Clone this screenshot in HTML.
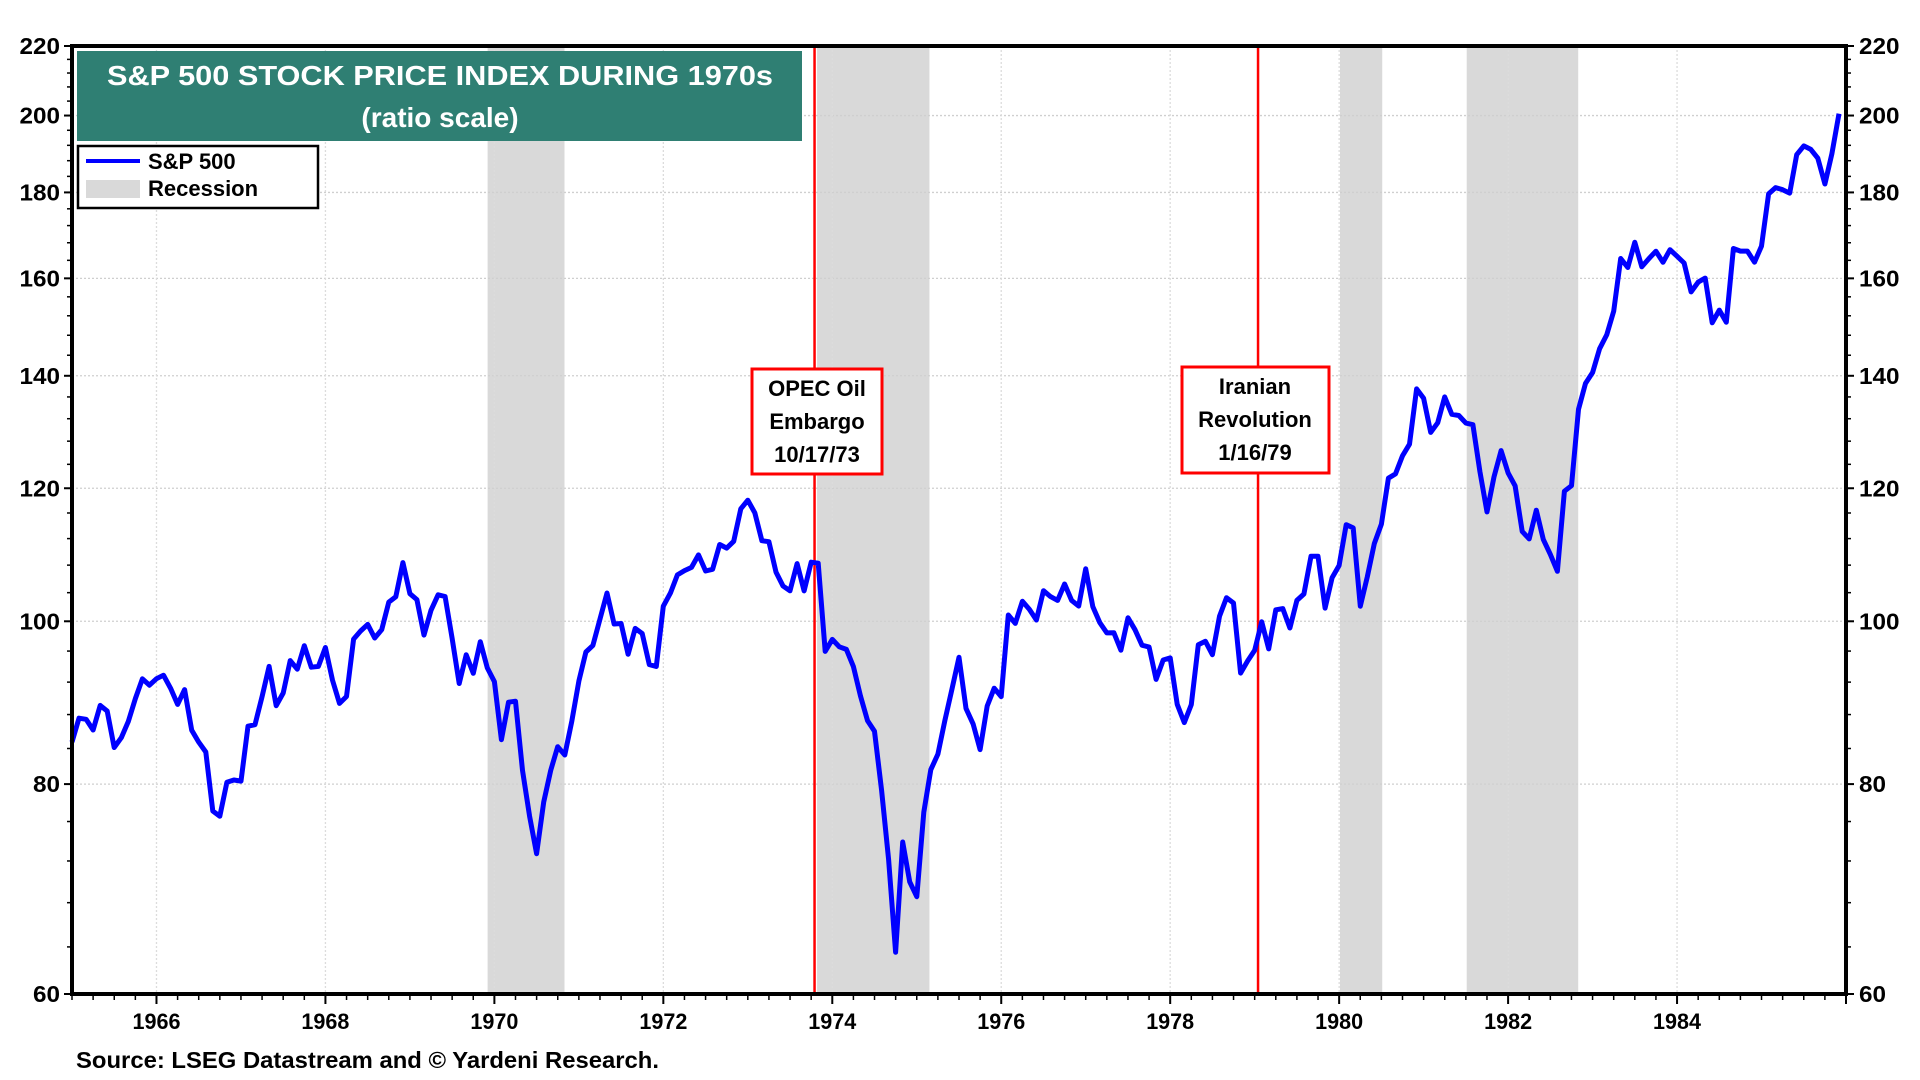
<!DOCTYPE html>
<html><head><meta charset="utf-8"><style>
html,body{margin:0;padding:0;background:#fff;}
svg{display:block;font-family:"Liberation Sans Narrow","Liberation Sans",sans-serif;font-weight:bold;}
</style></head><body>
<svg id="chart" width="1920" height="1080" viewBox="0 0 1920 1080">
<g id="rec"></g>
<g id="grid"></g>
<g id="ev"></g>
<g id="series"></g>
<g id="axes"></g>
<g id="title">
 <rect x="77" y="51" width="725" height="90" fill="#2f7f73"/>
 <text x="440" y="85" fill="#fff" font-size="28" text-anchor="middle" textLength="666" lengthAdjust="spacingAndGlyphs" font-family="Liberation Sans, sans-serif">S&amp;P 500 STOCK PRICE INDEX DURING 1970s</text>
 <text x="440" y="127" fill="#fff" font-size="28" text-anchor="middle" font-family="Liberation Sans, sans-serif">(ratio scale)</text>
</g>
<g id="legend">
 <rect x="78" y="146" width="240" height="62" fill="#fff" stroke="#000" stroke-width="2.5"/>
 <line x1="86" y1="161" x2="140" y2="161" stroke="#0000ff" stroke-width="4"/>
 <text x="148" y="169" font-size="22" font-family="Liberation Sans, sans-serif">S&amp;P 500</text>
 <rect x="86" y="180" width="54" height="18" fill="#d9d9d9"/>
 <text x="148" y="196" font-size="22" font-family="Liberation Sans, sans-serif">Recession</text>
</g>
<g>
 <rect x="752" y="369" width="130" height="105" fill="#fff" stroke="#ff0000" stroke-width="3"/>
 <text x="817" y="396" font-size="22" text-anchor="middle" font-family="Liberation Sans, sans-serif">OPEC Oil</text>
 <text x="817" y="429" font-size="22" text-anchor="middle" font-family="Liberation Sans, sans-serif">Embargo</text>
 <text x="817" y="462" font-size="22" text-anchor="middle" font-family="Liberation Sans, sans-serif">10/17/73</text>
</g>
<g>
 <rect x="1182" y="367" width="147" height="106" fill="#fff" stroke="#ff0000" stroke-width="3"/>
 <text x="1255" y="394" font-size="22" text-anchor="middle" font-family="Liberation Sans, sans-serif">Iranian</text>
 <text x="1255" y="427" font-size="22" text-anchor="middle" font-family="Liberation Sans, sans-serif">Revolution</text>
 <text x="1255" y="460" font-size="22" text-anchor="middle" font-family="Liberation Sans, sans-serif">1/16/79</text>
</g>
<text x="76" y="1068" font-size="23" textLength="583" lengthAdjust="spacingAndGlyphs" font-family="Liberation Sans, sans-serif">Source: LSEG Datastream and © Yardeni Research.</text>
</svg>
<script>
const startYear = 1965; // first point = Dec 1964 close, plotted at 1965.0
const spValues = [84.75,
87.56,87.43,86.16,89.11,88.42,84.12,85.25,87.17,89.96,92.42,91.61,92.43,
92.88,91.22,89.23,91.06,86.13,84.74,83.60,77.10,76.56,80.20,80.45,80.33,
86.61,86.78,90.20,94.01,89.08,90.64,94.75,93.64,96.71,93.90,94.00,96.47,
92.24,89.36,90.20,97.59,98.68,99.58,97.74,98.86,102.67,103.41,108.37,103.86,
103.01,98.13,101.51,103.69,103.46,97.71,91.83,95.51,93.12,97.24,93.81,92.06,
85.02,89.50,89.63,81.52,76.55,72.72,78.05,81.52,84.21,83.25,87.20,92.15,
95.88,96.75,100.31,103.95,99.63,99.70,95.58,99.03,98.34,94.23,93.99,102.09,
103.94,106.57,107.20,107.67,109.53,107.14,107.39,111.09,110.55,111.58,116.67,118.05,
116.03,111.68,111.52,106.97,104.95,104.26,108.22,104.25,108.43,108.29,95.96,97.55,
96.57,96.22,93.98,90.31,87.28,86.00,79.31,72.15,63.54,73.90,69.97,68.56,
76.98,81.59,83.36,87.30,91.15,95.19,88.75,86.88,83.87,89.04,91.24,90.19,
100.86,99.71,102.77,101.64,100.18,104.28,103.44,102.91,105.24,102.90,102.10,107.46,
102.03,99.82,98.42,98.44,96.12,100.48,98.85,96.77,96.53,92.34,94.83,95.10,
89.25,87.04,89.21,96.83,97.29,95.53,100.68,103.29,102.54,93.15,94.70,96.11,
99.93,96.28,101.59,101.76,99.08,102.91,103.81,109.32,109.32,101.82,106.16,107.94,
114.16,113.66,102.09,106.29,111.24,114.24,121.67,122.38,125.46,127.47,137.5,135.76,
129.55,131.27,136.00,132.81,132.59,131.21,130.92,122.79,116.18,121.89,126.35,122.55,
120.40,113.11,111.96,116.44,111.88,109.61,107.09,119.51,120.42,133.71,138.54,140.64,
145.30,148.06,152.96,164.42,162.39,168.11,162.56,164.40,166.07,163.55,166.40,164.93,
163.41,157.06,159.18,160.05,150.55,153.18,150.66,166.68,166.10,166.09,163.58,167.24,
179.63,181.18,180.66,179.83,189.55,191.85,190.92,188.63,182.08,189.82,200.5];
const recStart = [1969.92, 1973.82, 1980.01, 1981.51];
const recEnd = [1970.83, 1975.15, 1980.51, 1982.83];
const eventDates = [1973.79, 1979.04];
const yTicks = [60,80,100,120,140,160,180,200,220];
const xTickYears = [1966,1968,1970,1972,1974,1976,1978,1980,1982,1984];

const L=72,R=1846,T=46,B=994, X0=1965, X1=1986, YMIN=60, YMAX=220;
const NS='http://www.w3.org/2000/svg';
function xs(t){return L+(t-X0)/(X1-X0)*(R-L);}
function ys(v){return B-Math.log(v/YMIN)/Math.log(YMAX/YMIN)*(B-T);}
function mk(tag,attrs,parent){const e=document.createElementNS(NS,tag);for(const k in attrs)e.setAttribute(k,attrs[k]);parent.appendChild(e);return e;}

const rec=document.getElementById('rec');
recStart.forEach((s,i)=>{
  const r=mk('rect',{x:xs(s),y:T,width:xs(recEnd[i])-xs(s),height:B-T,fill:'#d9d9d9'},rec);
  
  
});
const grid=document.getElementById('grid');
yTicks.forEach(v=>{
  const g=mk('line',{x1:L,x2:R,y1:ys(v),y2:ys(v),stroke:'#cfcfcf','stroke-width':1.3,'stroke-dasharray':'2,2'},grid);
  
  
});
xTickYears.forEach(yr=>{
  const g=mk('line',{x1:xs(yr),x2:xs(yr),y1:T,y2:B,stroke:'#dcdcdc','stroke-width':1.3,'stroke-dasharray':'2,2'},grid);
  
  
});
const ev=document.getElementById('ev');
eventDates.forEach(d=>{
  const l=mk('line',{x1:xs(d),x2:xs(d),y1:T,y2:B,stroke:'#ff0000','stroke-width':2.5},ev);
  
  
});
const series=document.getElementById('series');
const pts=spValues.map((v,i)=>xs(startYear+i/12).toFixed(1)+','+ys(v).toFixed(1)).join(' ');
const pl=mk('polyline',{points:pts,fill:'none',stroke:'#0000ff','stroke-width':5,'stroke-linejoin':'round'},series);



const axes=document.getElementById('axes');
mk('rect',{x:L,y:T,width:R-L,height:B-T,fill:'none',stroke:'#000','stroke-width':4},axes);
yTicks.forEach((v,i)=>{
  mk('line',{x1:L-8,x2:L,y1:ys(v),y2:ys(v),stroke:'#000','stroke-width':2},axes);
  mk('line',{x1:R,x2:R+8,y1:ys(v),y2:ys(v),stroke:'#000','stroke-width':2},axes);
  if(i<yTicks.length-1){for(let k=1;k<5;k++){const m=v+(yTicks[i+1]-v)*k/5;
    mk('line',{x1:L-5,x2:L,y1:ys(m),y2:ys(m),stroke:'#000','stroke-width':1.5},axes);
    mk('line',{x1:R,x2:R+5,y1:ys(m),y2:ys(m),stroke:'#000','stroke-width':1.5},axes);}}
  const w=String(v).length*13.5;
  const a=mk('text',{x:L-12,y:ys(v)+8,'font-size':23,'text-anchor':'end',textLength:w,lengthAdjust:'spacingAndGlyphs'},axes);a.textContent=v;
  
  
  const b=mk('text',{x:R+13,y:ys(v)+8,'font-size':23,textLength:w,lengthAdjust:'spacingAndGlyphs'},axes);b.textContent=v;
  
  
});
for(let q=X0*4;q<=X1*4;q++){const t=q/4;const major=(q%8===0);
  mk('line',{x1:xs(t),x2:xs(t),y1:B,y2:B+(major?10:6),stroke:'#000','stroke-width':major?2:1.5},axes);}
xTickYears.forEach(yr=>{
  const t=mk('text',{x:xs(yr),y:1029,'font-size':22,'text-anchor':'middle',textLength:48,lengthAdjust:'spacingAndGlyphs'},axes);t.textContent=yr;
  
  
});
</script>
</body></html>
